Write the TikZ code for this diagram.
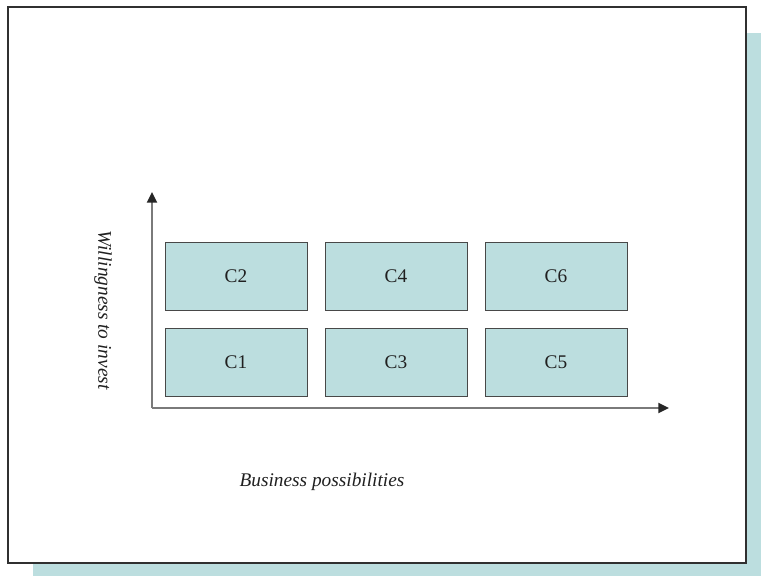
\documentclass[tikz,border=0pt]{standalone}
\usepackage{fontspec}
\setmainfont{Liberation Serif}
\usetikzlibrary{arrows.meta}
\definecolor{paleteal}{HTML}{BCDEDF}
\definecolor{framegray}{HTML}{303030}
\definecolor{boxgray}{HTML}{484848}
\definecolor{axisgray}{HTML}{7A7A7A}
\definecolor{inkgray}{HTML}{202020}
\tikzset{
  cell/.style={draw=boxgray, line width=0.6pt, fill=paleteal, minimum width=142*0.75pt, minimum height=68*0.75pt, inner sep=0pt, text=inkgray, font=\fontsize{14.5}{16}\selectfont},
  axis/.style={draw=axisgray, line width=1.4pt, -{Triangle[length=8pt,width=7.5pt,color=black!85]}},
  axislabel/.style={font=\itshape\fontsize{14.5}{16}\selectfont, text=inkgray, inner sep=0pt}
}
\begin{document}
\begin{tikzpicture}[x=0.75pt, y=-0.75pt]
  \useasboundingbox (0,0) rectangle (761,576);
  % drop shadow behind the page frame
  \fill[paleteal] (33,33) rectangle (761,576);
  % page frame
  \filldraw[fill=white, draw=framegray, line width=0.9pt] (8,7) rectangle (746,563);
  % matrix cells
  \node[cell] (c2) at (236,276) {C2};
  \node[cell] (c4) at (396,276) {C4};
  \node[cell] (c6) at (556,276) {C6};
  \node[cell] (c1) at (236,362) {C1};
  \node[cell] (c3) at (396,362) {C3};
  \node[cell] (c5) at (556,362) {C5};
  % axes
  \coordinate (origin) at (152,408);
  \coordinate (ytip) at (152,192);
  \coordinate (xtip) at (669,408);
  \draw[axis] (origin) -- (ytip);
  \draw[axis] (origin) -- (xtip);
  % axis labels
  \node[axislabel, rotate=-90] (ylabel) at (103,310) {Willingness to invest};
  \node[axislabel] (xlabel) at (322,482) {Business possibilities};
\end{tikzpicture}
\end{document}
